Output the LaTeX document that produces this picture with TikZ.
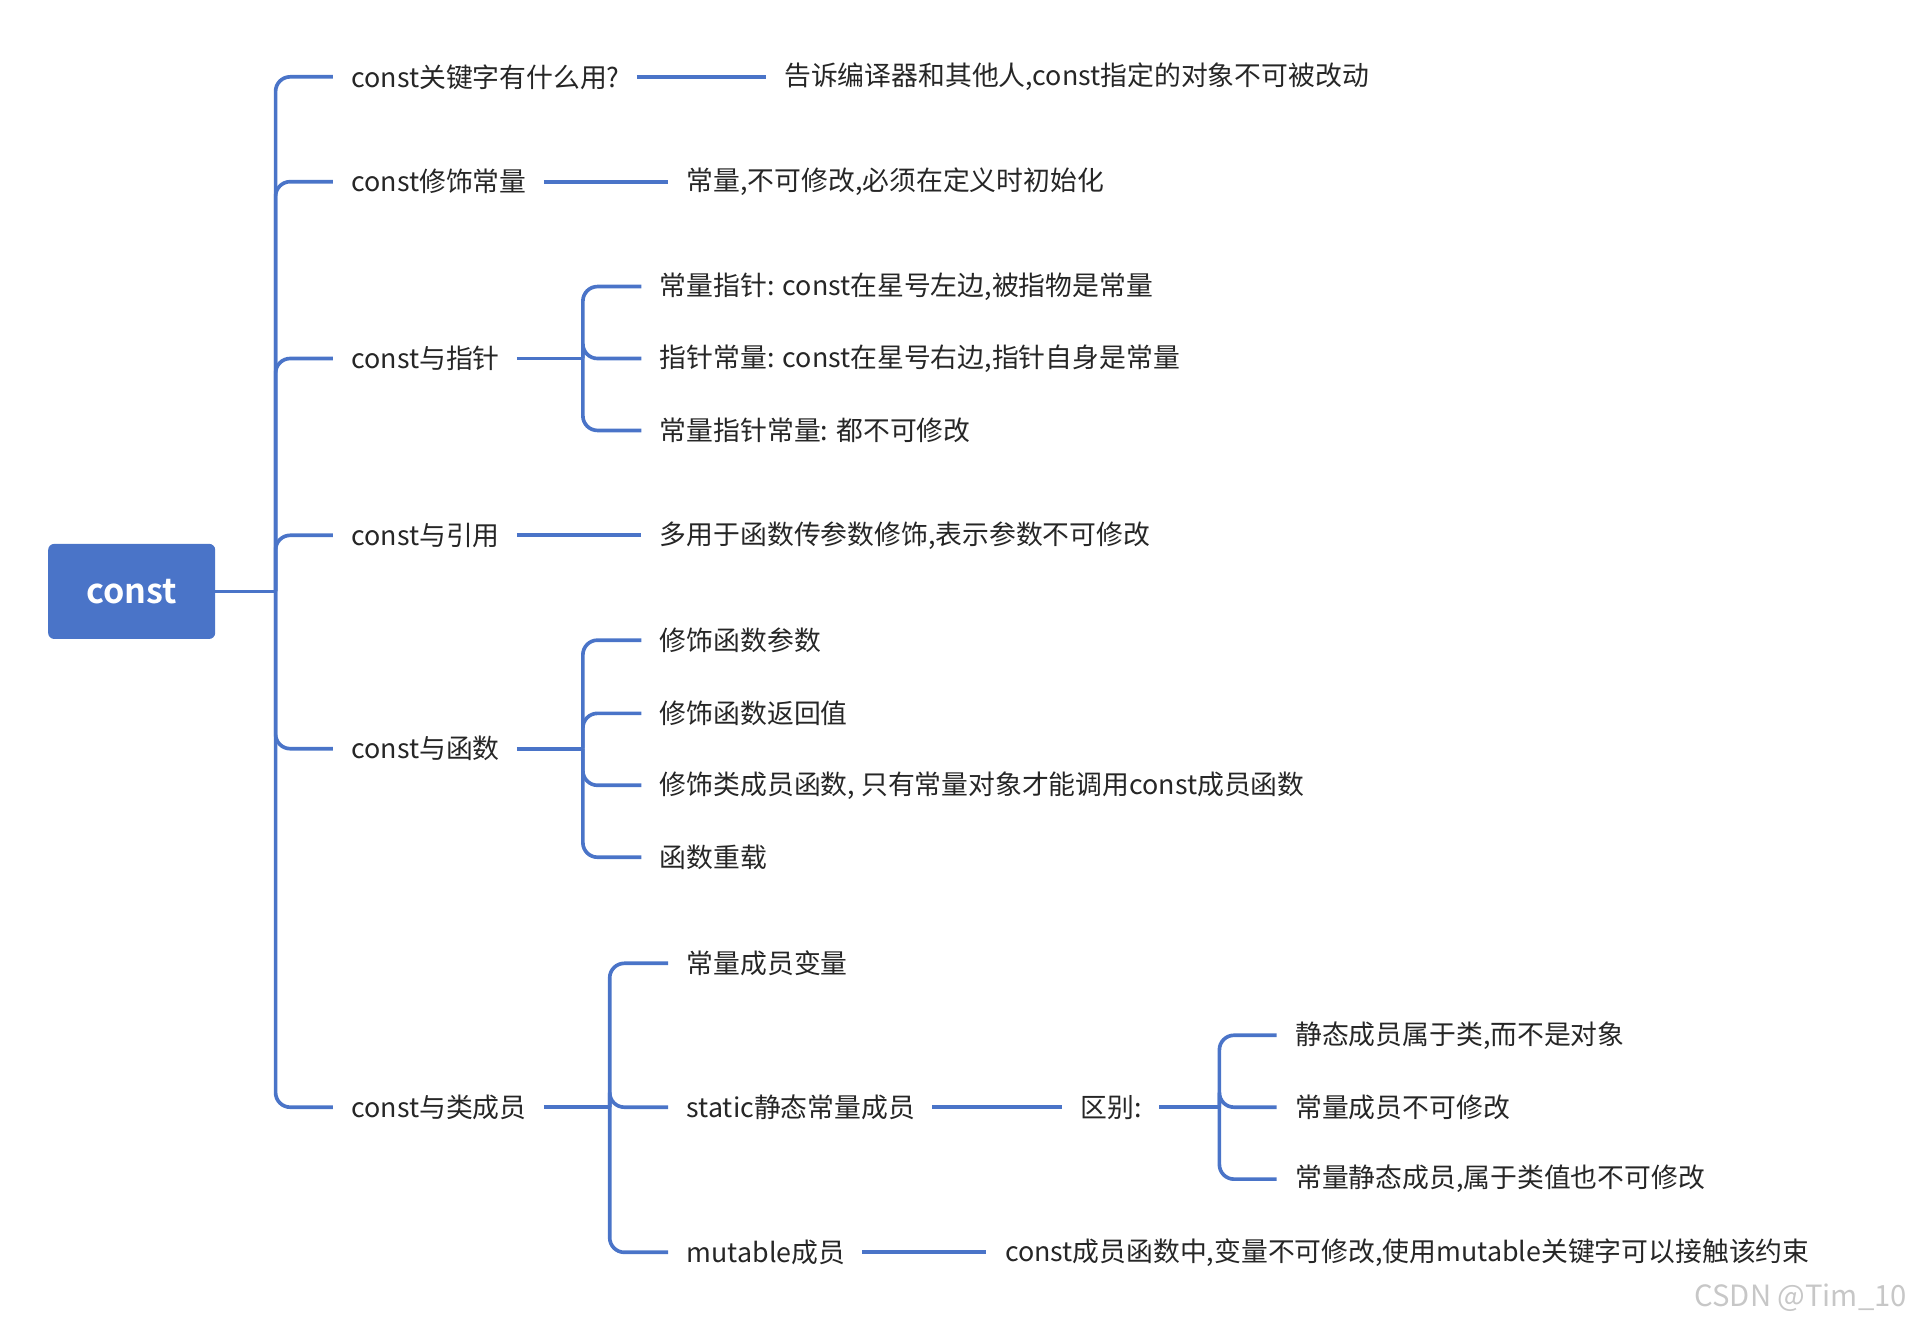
\documentclass[tikz,border=0pt]{standalone}
\usepackage{fontspec}
\setmainfont{Noto Sans CJK SC}[BoldFont={Noto Sans CJK SC Bold}]
\definecolor{lb}{HTML}{4A74C8}
\begin{document}
\begin{tikzpicture}[x=1pt,y=-1pt,
  lbl/.style={anchor=west,inner sep=0pt,font=\fontsize{22}{26}\selectfont,text=black!85},
  ln/.style={draw=lb,line width=3pt},
  br/.style={draw=lb,line width=3pt,rounded corners=12pt}]
\useasboundingbox (0,0) rectangle (1568,1091);
\node[fill=lb,rounded corners=5pt,minimum width=137pt,minimum height=78pt,text=white,font=\fontsize{28}{32}\selectfont\bfseries,inner sep=0pt] (root) at (108,485) {const};
% level 1
\node[lbl] (a) at (288,63) {const关键字有什么用?};
\node[lbl] (a1) at (643,63) {告诉编译器和其他人,const指定的对象不可被改动};
\node[lbl] (b) at (288,149) {const修饰常量};
\node[lbl] (b1) at (563,149) {常量,不可修改,必须在定义时初始化};
\node[lbl] (c) at (288,294) {const与指针};
\node[lbl] (c1) at (541,235) {常量指针: const在星号左边,被指物是常量};
\node[lbl] (c2) at (541,294) {指针常量: const在星号右边,指针自身是常量};
\node[lbl] (c3) at (541,353) {常量指针常量: 都不可修改};
\node[lbl] (d) at (288,439) {const与引用};
\node[lbl] (d1) at (541,439) {多用于函数传参数修饰,表示参数不可修改};
\node[lbl] (e) at (288,614) {const与函数};
\node[lbl] (e1) at (541,525) {修饰函数参数};
\node[lbl] (e2) at (541,585) {修饰函数返回值};
\node[lbl] (e3) at (541,644) {修饰类成员函数, 只有常量对象才能调用const成员函数};
\node[lbl] (e4) at (541,703) {函数重载};
\node[lbl] (f) at (288,908) {const与类成员};
\node[lbl] (f1) at (563,790) {常量成员变量};
\node[lbl] (f2) at (563,908) {static静态常量成员};
\node[lbl] (f3) at (563,1027) {mutable成员};
\node[lbl] (g) at (886,908) {区别:};
\node[lbl] (g1) at (1062,849) {静态成员属于类,而不是对象};
\node[lbl] (g2) at (1062,908) {常量成员不可修改};
\node[lbl] (g3) at (1062,967) {常量静态成员,属于类值也不可修改};
\node[lbl] (h1) at (824,1027) {const成员函数中,变量不可修改,使用mutable关键字可以接触该约束};
\node[anchor=east,inner sep=0pt,font=\fontsize{24}{28}\selectfont,text=black!22] (wm) at (1564,1064) {CSDN @Tim\_10};
% root spine
\coordinate (s) at (226,485);
\draw[ln] (root.east) -- (s);
\foreach \n in {a,b,c,d,e,f} \draw[br] (s) |- ([xshift=-15pt]\n.west);
% simple links
\draw[ln] ([xshift=14pt]a.east) -- ([xshift=-15pt]a1.west);
\draw[ln] ([xshift=14pt]b.east) -- ([xshift=-15pt]b1.west);
\draw[ln] ([xshift=14pt]d.east) -- ([xshift=-15pt]d1.west);
\draw[ln] ([xshift=14pt]f2.east) -- ([xshift=-15pt]g.west);
\draw[ln] ([xshift=14pt]f3.east) -- ([xshift=-15pt]h1.west);
% brackets
\coordinate (cp) at (478,294);
\draw[ln] ([xshift=14pt]c.east) -- (cp);
\foreach \n in {c1,c2,c3} \draw[br] (cp) |- ([xshift=-15pt]\n.west);
\coordinate (ep) at (478,614);
\draw[ln] ([xshift=14pt]e.east) -- (ep);
\foreach \n in {e1,e2,e3,e4} \draw[br] (ep) |- ([xshift=-15pt]\n.west);
\coordinate (fp) at (500,908);
\draw[ln] ([xshift=14pt]f.east) -- (fp);
\foreach \n in {f1,f2,f3} \draw[br] (fp) |- ([xshift=-15pt]\n.west);
\coordinate (gp) at (1000,908);
\draw[ln] ([xshift=14pt]g.east) -- (gp);
\foreach \n in {g1,g2,g3} \draw[br] (gp) |- ([xshift=-15pt]\n.west);
\end{tikzpicture}
\end{document}
